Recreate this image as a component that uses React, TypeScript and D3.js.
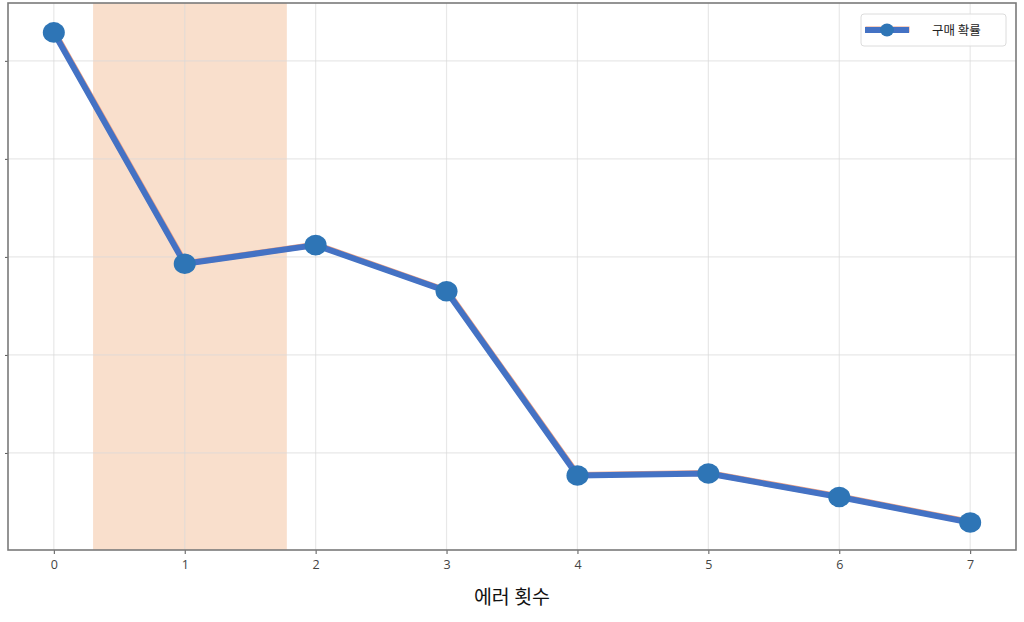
import React, { useEffect, useRef } from 'react';
import * as d3 from 'd3';

// chart data
const errorCounts = [0, 1, 2, 3, 4, 5, 6, 7];
const purchaseProb = [0.529, 0.293, 0.312, 0.265, 0.077, 0.079, 0.055, 0.029];
const yTicks = [0.1, 0.2, 0.3, 0.4, 0.5];
const highlightSpan = [0.3, 1.78];
const xLabel = '에러 횟수';
const legendLabel = '구매 확률';

const WIDTH = 1024;
const HEIGHT = 622;
const FONT = '"Noto Sans CJK KR", "Noto Sans", sans-serif';

const App: React.FC = () => {
  const svgRef = useRef<SVGSVGElement>(null);

  useEffect(() => {
    if (!svgRef.current) return;
    const svg = d3.select(svgRef.current);
    svg.selectAll('*').remove();

    const left = 8, right = 1016, top = 3, bottom = 550;

    const x = d3.scaleLinear().domain([-0.35, 7.35]).range([left, right]);
    const y = d3.scaleLinear().domain([0.001, 0.559]).range([bottom, top]);

    // highlighted band
    svg.append('rect')
      .attr('x', x(highlightSpan[0]))
      .attr('y', top)
      .attr('width', x(highlightSpan[1]) - x(highlightSpan[0]))
      .attr('height', bottom - top)
      .attr('fill', '#f9dfcc');

    // grid
    const grid = svg.append('g').attr('stroke', '#d9d9d9').attr('stroke-opacity', 0.6).attr('stroke-width', 1.2);
    grid.selectAll('line.v')
      .data(errorCounts)
      .enter()
      .append('line')
      .attr('x1', d => x(d)).attr('x2', d => x(d))
      .attr('y1', top).attr('y2', bottom);
    grid.selectAll('line.h')
      .data(yTicks)
      .enter()
      .append('line')
      .attr('x1', left).attr('x2', right)
      .attr('y1', d => y(d)).attr('y2', d => y(d));

    // x axis
    const xAxis = svg.append('g')
      .attr('transform', `translate(0,${bottom})`)
      .call(d3.axisBottom(x).tickValues(errorCounts).tickFormat(d3.format('d')).tickSize(4).tickPadding(6));
    xAxis.select('.domain').remove();
    xAxis.selectAll('line').attr('stroke', '#555');
    xAxis.selectAll('text')
      .attr('fill', '#444')
      .attr('font-size', 12.5)
      .attr('font-family', '"Open Sans", "Noto Sans", sans-serif');

    // y axis ticks only, no labels
    const yAxis = svg.append('g')
      .attr('transform', `translate(${left},0)`)
      .call(d3.axisLeft(y).tickValues(yTicks).tickFormat(() => '').tickSize(3));
    yAxis.select('.domain').remove();
    yAxis.selectAll('line').attr('stroke', '#555');

    // frame
    svg.append('rect')
      .attr('x', left).attr('y', top)
      .attr('width', right - left).attr('height', bottom - top)
      .attr('fill', 'none')
      .attr('stroke', '#7a7a7a')
      .attr('stroke-width', 1.6);

    const points = errorCounts.map((e, i) => [e, purchaseProb[i]] as [number, number]);
    const line = d3.line<[number, number]>().x(d => x(d[0])).y(d => y(d[1]));

    // thin salmon trace under the main line
    svg.append('path')
      .attr('d', line(points) || '')
      .attr('fill', 'none')
      .attr('stroke', '#f0a080')
      .attr('stroke-width', 6)
      .attr('transform', 'translate(0.5,-0.5)');

    svg.append('path')
      .attr('d', line(points) || '')
      .attr('fill', 'none')
      .attr('stroke', '#4472c4')
      .attr('stroke-width', 6)
      .attr('stroke-linejoin', 'round');

    svg.selectAll('ellipse.pt')
      .data(points)
      .enter()
      .append('ellipse')
      .attr('cx', d => x(d[0]))
      .attr('cy', d => y(d[1]))
      .attr('rx', 11)
      .attr('ry', 10.3)
      .attr('fill', '#2e75b6');

    // x label
    svg.append('text')
      .attr('x', (left + right) / 2)
      .attr('y', 604)
      .attr('text-anchor', 'middle')
      .attr('font-size', 19.5)
      .attr('font-family', FONT)
      .attr('fill', '#111')
      .text(xLabel);

    // legend
    const lg = svg.append('g').attr('transform', 'translate(861,14)');
    lg.append('rect')
      .attr('width', 145).attr('height', 32)
      .attr('rx', 3)
      .attr('fill', '#fff')
      .attr('fill-opacity', 0.85)
      .attr('stroke', '#dcdcdc');
    lg.append('line')
      .attr('x1', 4).attr('x2', 48)
      .attr('y1', 16).attr('y2', 16)
      .attr('stroke', '#f0a080')
      .attr('stroke-width', 6)
      .attr('transform', 'translate(0.5,-0.5)');
    lg.append('line')
      .attr('x1', 4).attr('x2', 48)
      .attr('y1', 16).attr('y2', 16)
      .attr('stroke', '#4472c4')
      .attr('stroke-width', 6);
    lg.append('ellipse')
      .attr('cx', 26).attr('cy', 16)
      .attr('rx', 7).attr('ry', 6.5)
      .attr('fill', '#2e75b6');
    lg.append('text')
      .attr('x', 71).attr('y', 20.5)
      .attr('font-size', 12.5)
      .attr('font-family', FONT)
      .attr('fill', '#222')
      .text(legendLabel);
  }, []);

  return (
    <svg
      ref={svgRef}
      width={WIDTH}
      height={HEIGHT}
      style={{ position: 'absolute', left: 0, top: 0, background: '#fff' }}
    />
  );
};

export default App;
